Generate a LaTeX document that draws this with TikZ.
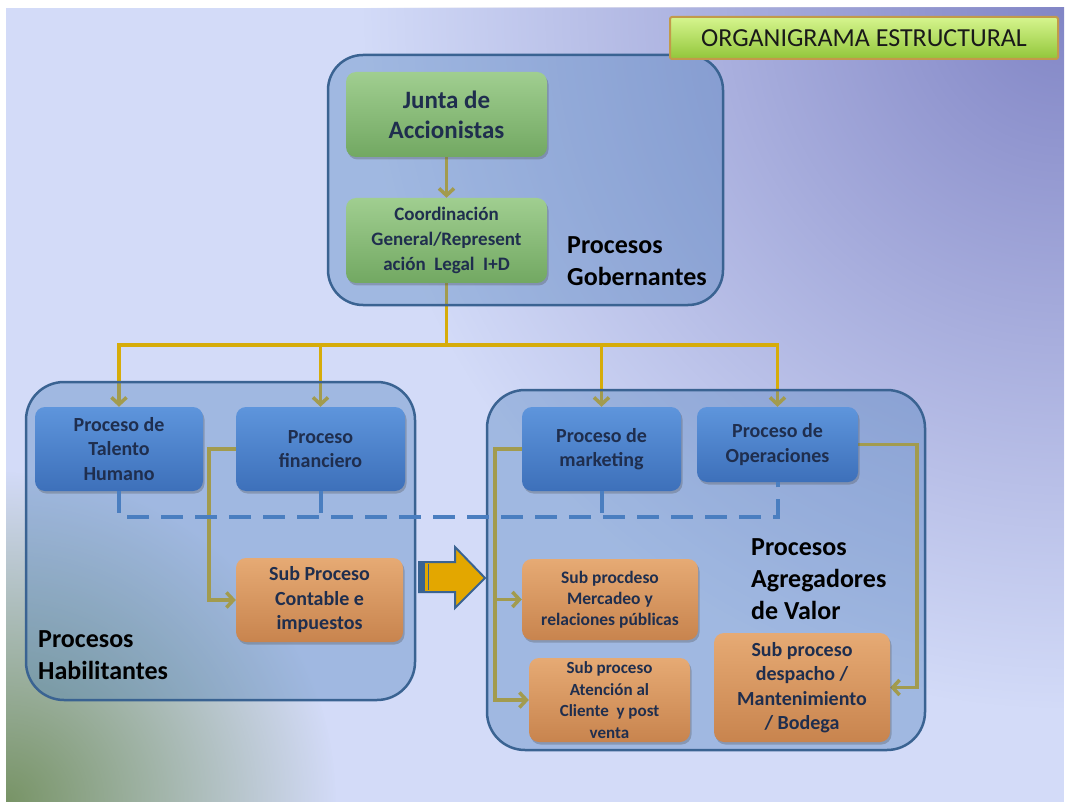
\documentclass[tikz,border=0pt]{standalone}
\usepackage{fontspec}
\setmainfont{Carlito}
\usetikzlibrary{arrows.meta,shadows,calc,fadings}
\tikzfading[name=cornerfade, inner color=transparent!0, outer color=transparent!100]
\definecolor{bgLight}{HTML}{D3DBF8}
\definecolor{pA}{HTML}{8286C6}
\definecolor{gA}{HTML}{789466}
\definecolor{contFill}{HTML}{4F81BD}
\definecolor{contDraw}{HTML}{3A6392}
\definecolor{connC}{HTML}{D6AC0A}
\definecolor{dashC}{HTML}{4A7EC0}
\definecolor{blueTop}{HTML}{5E95DC}
\definecolor{blueBot}{HTML}{3D70BA}
\definecolor{greenTop}{HTML}{A0CE90}
\definecolor{greenBot}{HTML}{72A862}
\definecolor{orTop}{HTML}{E6AA74}
\definecolor{orBot}{HTML}{C8844E}
\definecolor{txtC}{HTML}{1F2E4E}
\definecolor{titleTop}{HTML}{D6F58E}
\definecolor{titleBot}{HTML}{92C63A}
\definecolor{titleEdge}{HTML}{C29A4A}
\definecolor{arrowFill}{HTML}{E3A700}
\pgfdeclarelayer{bgl}
\pgfdeclarelayer{connl}
\pgfdeclarelayer{contl}
\pgfsetlayers{bgl,connl,contl,main}
\tikzset{
  basebox/.style={rounded corners=10pt, align=center, text=txtC, inner sep=2pt,
    font=\bfseries\fontsize{20}{24.5}\selectfont,
    drop shadow={shadow xshift=1.5pt, shadow yshift=-2.5pt, opacity=0.3, fill=black!70}},
  bluebox/.style={basebox, top color=blueTop, bottom color=blueBot},
  greenbox/.style={basebox, top color=greenTop, bottom color=greenBot},
  orbox/.style={basebox, top color=orTop, bottom color=orBot},
  container/.style={fill=contFill, fill opacity=0.38, draw=contDraw, draw opacity=1, line width=2.5pt, rounded corners=38pt},
  conn/.style={draw=connC, line width=3.5pt},
  tipped/.style={-{Straight Barb[length=7pt,width=15pt]}},
  dashline/.style={draw=dashC, line width=4pt, dash pattern=on 22pt off 12pt},
  grouplabel/.style={font=\bfseries\fontsize{26}{32}\selectfont, align=left, text=black, inner sep=0pt},
}
\begin{document}
\begin{tikzpicture}[x=1pt,y=-1pt]
\useasboundingbox (0,0) rectangle (1065,802);
% background
\begin{pgfonlayer}{bgl}
\fill[bgLight] (6,8) rectangle (1064,802);
\begin{scope}
\clip (6,8) rectangle (1064,802);
\fill[pA, path fading=cornerfade] (1064,8) circle (700);
\fill[gA, path fading=cornerfade] (6,802) circle (330);
\end{scope}
\end{pgfonlayer}
% containers
\begin{pgfonlayer}{contl}
\draw[container, rounded corners=35pt] (328,55) rectangle (723,305);
\draw[container] (26,382) rectangle (415,700);
\draw[container] (487,390) rectangle (925,750);
\end{pgfonlayer}
% boxes
\node[greenbox, minimum width=201pt, minimum height=85pt, font=\bfseries\fontsize{25}{30}\selectfont] (jun) at (446.5,114.5) {Junta de\\Accionistas};
\node[greenbox, minimum width=201pt, minimum height=85pt, font=\bfseries\fontsize{19}{25}\selectfont] (coo) at (446.5,240.5) {Coordinación\\General/Represent\\ación\ \ Legal\ \ I+D};
\node[bluebox, minimum width=168pt, minimum height=84pt] (tal) at (119,449) {Proceso de\\Talento\\Humano};
\node[bluebox, minimum width=169pt, minimum height=84pt] (fin) at (320.5,449) {Proceso\\financiero};
\node[orbox, minimum width=167pt, minimum height=84pt] (con) at (319.5,600) {Sub Proceso\\Contable e\\impuestos};
\node[bluebox, minimum width=159pt, minimum height=84pt] (mkt) at (601.5,449) {Proceso de\\marketing};
\node[bluebox, minimum width=161pt, minimum height=75pt] (ops) at (777.5,444.5) {Proceso de\\Operaciones};
\node[orbox, minimum width=176pt, minimum height=81pt, font=\bfseries\fontsize{17.5}{21}\selectfont] (mer) at (610,599.5) {Sub procdeso\\Mercadeo y\\relaciones públicas};
\node[orbox, minimum width=161pt, minimum height=84pt, font=\bfseries\fontsize{17}{21.5}\selectfont] (ate) at (609.5,700) {Sub proceso\\Atención al\\Cliente\ \ y post\\venta};
\node[orbox, minimum width=176pt, minimum height=109pt, font=\bfseries\fontsize{20}{24.5}\selectfont] (des) at (802,687.5) {Sub proceso\\despacho /\\Mantenimiento\\/ Bodega};
% title
\node[minimum width=388pt, minimum height=42pt, top color=titleTop, bottom color=titleBot, draw=titleEdge, line width=2pt, rounded corners=2pt, font=\fontsize{26}{30}\selectfont, text=black!90] (tit) at (864,38) {ORGANIGRAMA ESTRUCTURAL};
% connectors
\begin{pgfonlayer}{connl}
\draw[conn,tipped] (jun.south) -- (coo.north);
\coordinate (bus) at (446.5,345);
\draw[conn] (coo.south) -- (bus);
\draw[conn,tipped] (bus) -| (tal.north);
\draw[conn,tipped] (bus) -| (fin.north);
\draw[conn,tipped] (bus) -| (mkt.north);
\draw[conn,tipped] (bus) -| (ops.north);
\draw[conn,tipped] (fin.west) -- ++(-27,0) |- (con.west);
\coordinate (mk1) at (495,449);
\draw[conn,tipped] (mkt.west) -- (mk1) |- (ate.west);
\draw[conn,tipped] (mk1 |- mer.west) -- (mer.west);
\draw[conn,tipped] (ops.east) -- ++(59,0) |- (des.east);
\end{pgfonlayer}
% dashed link
\coordinate (dl) at (119,517);
\draw[dashline] (tal.south) -- (tal.south |- dl) -| (ops.south);
\draw[dashline] (fin.south) -- (fin.south |- dl);
\draw[dashline] (mkt.south) -- (mkt.south |- dl);
% big arrow
\filldraw[fill=arrowFill, draw=contDraw, line width=2pt] (419,562) -- (455,562) -- (455,547) -- (485,578) -- (455,608) -- (455,592) -- (419,592) -- cycle;
\fill[contDraw] (419,562) rectangle (425,592);
\draw[contDraw, line width=0.8pt] (428,564) -- (428,590);
% group labels
\node[grouplabel, anchor=west] (lgob) at (567,261) {Procesos\\Gobernantes};
\node[grouplabel, anchor=west] (lhab) at (38,655) {Procesos\\Habilitantes};
\node[grouplabel, anchor=west] (lagr) at (751,579) {Procesos\\Agregadores\\de Valor};
\end{tikzpicture}
\end{document}
